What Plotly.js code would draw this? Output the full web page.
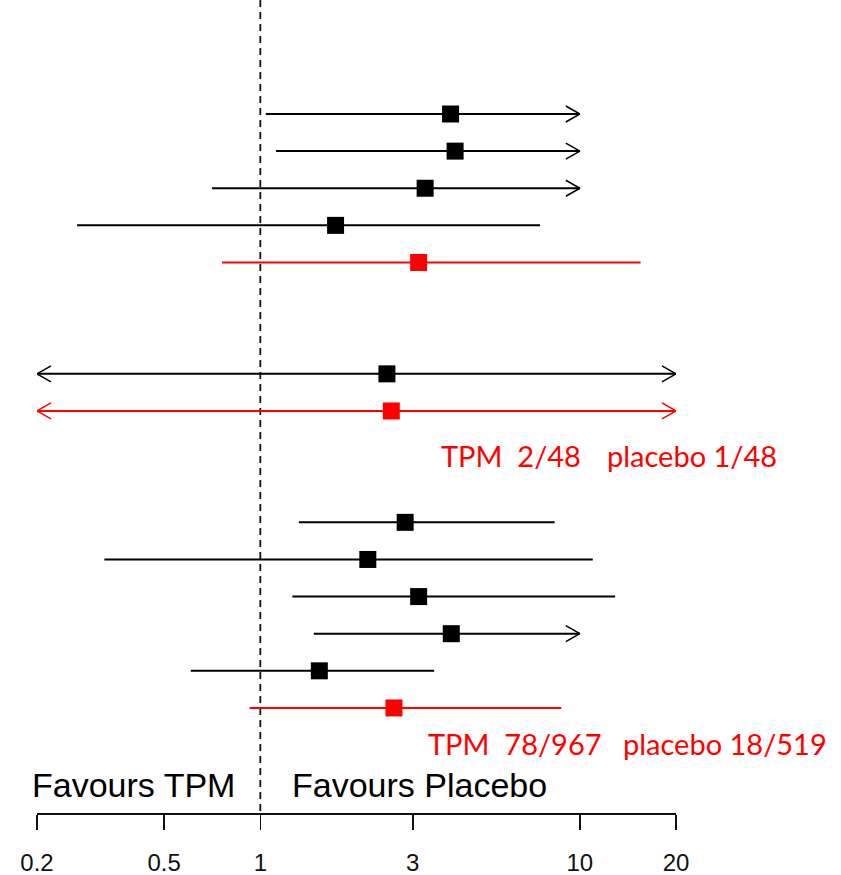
<!DOCTYPE html>
<html><head><meta charset="utf-8">
<script src="https://cdn.plot.ly/plotly-3.0.1.min.js"></script>
<style>html,body{margin:0;padding:0;background:#fff}</style>
</head><body><div id="chart" style="width:841px;height:875px"></div>
<script>
// ---- data ----
const groupSizes    = [5, 2, 6];
const estimates     = [3.94, 4.07, 3.28, 1.72, 3.13, 2.49, 2.57, 2.84, 2.17, 3.13, 3.96, 1.53, 2.62];
const ciLow         = [1.04, 1.12, 0.706, 0.267, 0.759, 0.2, 0.2, 1.32, 0.325, 1.26, 1.47, 0.606, 0.926];
const ciHigh        = [10, 10, 10, 7.51, 15.5, 20, 20, 8.34, 10.98, 12.9, 10, 3.50, 8.75];
const lowTruncated  = [false,false,false,false,false,true,true,false,false,false,false,false,false];
const highTruncated = [true,true,true,false,false,true,true,false,false,false,true,false,false];
const isPooled      = [false,false,false,false,true,false,true,false,false,false,false,false,true];
const nullEffect    = 1;
const tickValues    = [0.2, 0.5, 1, 3, 10, 20];
const tickLabels    = ['0.2', '0.5', '1', '3', '10', '20'];
const countLabelsTPM     = ['TPM\u00a0\u00a02/48', 'TPM\u00a0\u00a078/967'];
const countLabelsPlacebo = ['placebo 1/48', 'placebo 18/519'];
const favourLabels  = ['Favours TPM', 'Favours Placebo'];

// ---- geometry ----
const W = 841, H = 875;
const M = {l: 37, r: 165, t: 0, b: 62};
const plotW = W - M.l - M.r, plotH = H - M.t - M.b;
const xr = [Math.log10(0.2), Math.log10(20)];
const yr = [18.83, -3.071];
const decPerPx = (xr[1] - xr[0]) / plotW;
const rowPerPx = (yr[0] - yr[1]) / plotH;
const BLACK = '#000000', RED = '#ff0000';

// row positions: consecutive rows in groups, two blank rows between groups
const rowPos = [];
let r = 0;
groupSizes.forEach((n) => { for (let i = 0; i < n; i++) rowPos.push(r++); r += 2; });

const traces = [];
// dashed reference line at the null effect
traces.push({type: 'scatter', mode: 'lines', x: [nullEffect, nullEffect], y: [yr[1], yr[0]],
  line: {color: '#111', width: 1.8, dash: '7px,5px'}, hoverinfo: 'skip', cliponaxis: false});

const headDx = 14 * decPerPx, headDy = 8 * rowPerPx;
function chevron(tip, y, dir) {
  const back = tip * Math.pow(10, -dir * headDx);
  return {x: [back, tip, back, null], y: [y - headDy, y, y + headDy, null]};
}
estimates.forEach((est, i) => {
  const col = isPooled[i] ? RED : BLACK;
  const y = rowPos[i];
  traces.push({type: 'scatter', mode: 'lines', x: [ciLow[i], ciHigh[i]], y: [y, y],
    line: {color: col, width: 2}, hoverinfo: 'skip', cliponaxis: false});
  const ax = [], ay = [];
  if (lowTruncated[i]) { const c = chevron(ciLow[i], y, -1); ax.push(...c.x); ay.push(...c.y); }
  if (highTruncated[i]) { const c = chevron(ciHigh[i], y, 1); ax.push(...c.x); ay.push(...c.y); }
  if (ax.length) traces.push({type: 'scatter', mode: 'lines', x: ax, y: ay,
    line: {color: col, width: 1.5}, hoverinfo: 'skip', cliponaxis: false});
});
traces.push({type: 'scatter', mode: 'markers', x: estimates, y: rowPos,
  marker: {symbol: 'square', size: 17, color: isPooled.map(p => p ? RED : BLACK), line: {width: 0}},
  hoverinfo: 'x'});

// pooled rows with counts (groups 2 and 3)
const pooledRows = rowPos.filter((_, i) => isPooled[i]);
const countRowY = [pooledRows[1] + 1.2, pooledRows[2] + 0.95];
const countTPMx = [440, 427];
const countPlacX = [606, 622];
const px2paper = px => (px - M.l) / plotW;
const annotations = [];
for (let k = 0; k < 2; k++) {
  annotations.push({xref: 'paper', yref: 'y', x: px2paper(countTPMx[k]), y: countRowY[k],
    xanchor: 'left', yanchor: 'middle', showarrow: false, text: countLabelsTPM[k],
    font: {family: 'Lato, sans-serif', size: 29, color: RED}, borderpad: 0});
  annotations.push({xref: 'paper', yref: 'y', x: px2paper(countPlacX[k]), y: countRowY[k],
    xanchor: 'left', yanchor: 'middle', showarrow: false, text: countLabelsPlacebo[k],
    font: {family: 'Lato, sans-serif', size: 29, color: RED}, borderpad: 0});
}
const favX = [31, 291];
favourLabels.forEach((t, k) => annotations.push({xref: 'paper', yref: 'y', x: px2paper(favX[k]), y: 18.07,
  xanchor: 'left', yanchor: 'middle', showarrow: false, text: t,
  font: {family: 'Liberation Sans, Arial, sans-serif', size: 34, color: '#000'}, borderpad: 0}));

const layout = {
  width: W, height: H, margin: M, showlegend: false,
  paper_bgcolor: '#fff', plot_bgcolor: '#fff',
  xaxis: {type: 'log', range: xr, showgrid: false, zeroline: false,
    showline: true, linecolor: '#111', linewidth: 1.5,
    ticks: 'outside', ticklen: 15, tickwidth: 1.5, tickcolor: '#111',
    ticklabelstandoff: 13,
    tickvals: tickValues, ticktext: tickLabels,
    tickfont: {family: 'Liberation Sans, Arial, sans-serif', size: 24, color: '#111'}},
  yaxis: {range: yr, visible: false, showgrid: false, zeroline: false},
  annotations: annotations
};
Plotly.newPlot('chart', traces, layout, {staticPlot: true});
</script>
</body></html>
